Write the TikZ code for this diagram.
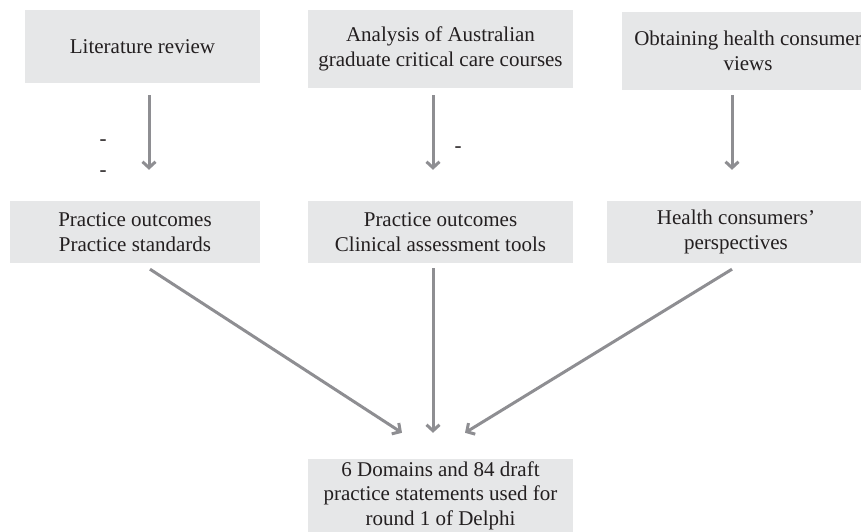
\documentclass[tikz,border=0pt]{standalone}
\usepackage{fontspec}
\setmainfont{Liberation Serif}
\usetikzlibrary{arrows.meta}
\definecolor{boxgray}{HTML}{E6E7E8}
\definecolor{arrgray}{HTML}{8E8E92}
\definecolor{txt}{HTML}{231F20}
\begin{document}
\begin{tikzpicture}[x=1pt,y=-1pt,
  box/.style={fill=boxgray,draw=none,inner sep=0pt,align=center,text=txt,
    font=\fontsize{21}{24.5}\selectfont},
  flow/.style={draw=arrgray,line width=3pt,-{Straight Barb[length=6pt,width=13pt]}},
  tick/.style={inner sep=0pt,text=txt,font=\fontsize{21}{24.5}\selectfont}]
\useasboundingbox (0,0) rectangle (861,532);
\node[box,minimum width=235pt,minimum height=73pt] (b1) at (142.5,46.5) {Literature review};
\node[box,minimum width=265pt,minimum height=78pt] (b2) at (440.5,49) {Analysis of Australian\\graduate critical care courses};
\node[box,minimum width=252pt,minimum height=78pt] (b3) at (748,51) {Obtaining health consumer\\views};
\node[box,minimum width=250pt,minimum height=62pt] (b4) at (135,232) {Practice outcomes\\Practice standards};
\node[box,minimum width=265pt,minimum height=62pt] (b5) at (440.5,232) {Practice outcomes\\Clinical assessment tools};
\node[box,minimum width=258pt,minimum height=62pt] (b6) at (736,232) {Health consumers'\\perspectives};
\node[box,minimum width=265pt,minimum height=73pt] (b7) at (440.5,495.5) {6 Domains and 84 draft\\practice statements used for\\round 1 of Delphi};
\node[tick] (t1) at (103,143) {-};
\node[tick] (t2) at (103,174) {-};
\node[tick] (t3) at (458,150) {-};
\draw[flow] ([xshift=6.5pt,yshift=-12pt]b1.south) -- ([xshift=14pt,yshift=31pt]b4.north);
\draw[flow] ([xshift=-7.5pt,yshift=-7pt]b2.south) -- ([xshift=-7.5pt,yshift=31pt]b5.north);
\draw[flow] ([xshift=-16pt,yshift=-5pt]b3.south) -- ([xshift=-4pt,yshift=31pt]b6.north);
\draw[flow] ([xshift=15pt,yshift=-6pt]b4.south) -- ([xshift=-38.5pt,yshift=26pt]b7.north);
\draw[flow] ([xshift=-7.5pt,yshift=-5pt]b5.south) -- ([xshift=-7.5pt,yshift=26pt]b7.north);
\draw[flow] ([xshift=-4pt,yshift=-6pt]b6.south) -- ([xshift=24.5pt,yshift=26pt]b7.north);
\end{tikzpicture}
\end{document}
